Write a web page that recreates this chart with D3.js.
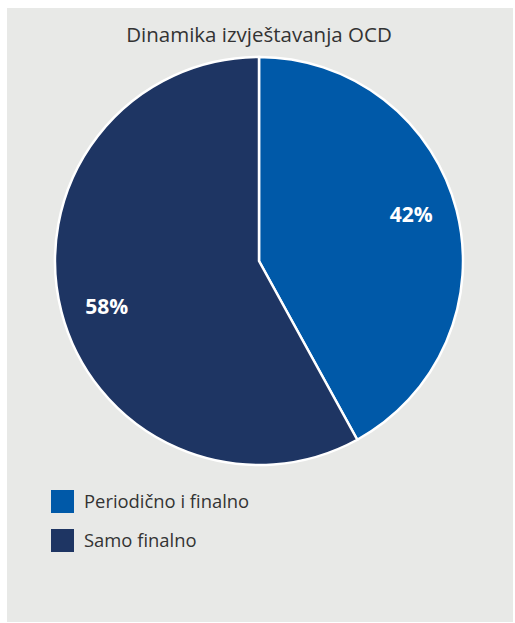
<!DOCTYPE html>
<html><head><meta charset="utf-8">
<script src="https://cdn.jsdelivr.net/npm/d3@7"></script>
<style>html,body{margin:0;padding:0;background:#fff;}svg{display:block;font-family:"Open Sans",sans-serif;}</style>
</head><body>
<svg id="c" width="515" height="623"></svg>
<script>
const title = "Dinamika izvještavanja OCD";
const categories = ["Periodično i finalno", "Samo finalno"];
const values = [42, 58];
const colors = ["#0059a8", "#1e3563"];

const svg = d3.select("#c");
svg.append("rect").attr("x",7).attr("y",8).attr("width",506).attr("height",614).attr("fill","#e8e9e7");
svg.append("text").attr("x",259).attr("y",42).attr("text-anchor","middle")
  .attr("font-size",20.5).attr("fill","#333").text(title);

const cx=259, cy=261, R=204;
const pie = d3.pie().sort(null).value(d=>d);
const arcs = pie(values);
const arc = d3.arc().innerRadius(0).outerRadius(R);
const labelArc = d3.arc().innerRadius(159).outerRadius(159);
const shift = -0.042;
const g = svg.append("g").attr("transform",`translate(${cx},${cy})`);
g.selectAll("path").data(arcs).join("path").attr("d",arc)
  .attr("fill",(d,i)=>colors[i]).attr("stroke","#fff").attr("stroke-width",2.5);
g.selectAll("text").data(arcs).join("text")
  .attr("transform",d=>`translate(${labelArc.centroid({startAngle:d.startAngle+shift,endAngle:d.endAngle+shift})})`)
  .attr("text-anchor","middle").attr("dy","0.35em")
  .attr("font-size",21).attr("font-weight","bold").attr("fill","#fff")
  .text(d=>d.data+"%");

const lg = svg.append("g");
categories.forEach((c,i)=>{
  const y = 490 + i*39;
  lg.append("rect").attr("x",51).attr("y",y).attr("width",23).attr("height",23).attr("fill",colors[i]);
  lg.append("text").attr("x",84).attr("y",y+18).attr("font-size",18.4).attr("fill","#333").text(c);
});
</script>
</body></html>
